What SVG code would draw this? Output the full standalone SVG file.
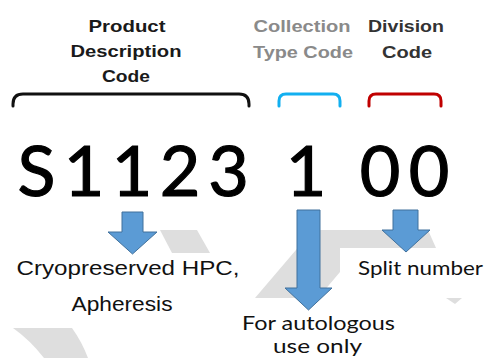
<svg xmlns="http://www.w3.org/2000/svg" width="488" height="358" viewBox="0 0 488 358">
  <style>
    .hdr { font-family: "Liberation Sans", Arial, sans-serif; font-weight: bold; font-size: 16.5px; text-anchor: middle; }
    .desc { font-family: "Liberation Sans", Arial, sans-serif; font-size: 20.5px; fill: #111; text-anchor: middle; }
    .cal { font-family: Lato, "Open Sans", sans-serif; font-size: 19px; fill: #111; text-anchor: middle; }
    .code { font-family: Lato, "Open Sans", sans-serif; font-size: 70px; fill: #000; stroke: #000; stroke-width: 1.2; text-anchor: middle; }
    .bracket { fill: none; stroke-width: 3; stroke-linecap: round; }
    .arrow { fill: #5b9bd5; stroke: #41719c; stroke-width: 1; }
    .bg { fill: #dedede; }
  </style>
  <rect width="488" height="358" fill="#ffffff"/>
  <g id="background">
    <polygon class="bg" points="160,230 197,230 210,253 172,253"/>
    <polygon class="bg" points="255,298 313,230 428,230 436,248 340,248 340,272 318,298"/>
    <polygon class="bg" points="446,298 462,298 455,304"/>
    <path class="bg" d="M13,328 L72,328 Q82,342 88,358 L44,358 Q30,340 13,328 Z"/>
  </g>
  <g id="product-description-code">
    <text class="hdr" fill="#1a1a1a" x="127" y="32" textLength="77" lengthAdjust="spacingAndGlyphs">Product</text>
    <text class="hdr" fill="#1a1a1a" x="126" y="57" textLength="111" lengthAdjust="spacingAndGlyphs">Description</text>
    <text class="hdr" fill="#1a1a1a" x="126" y="82" textLength="48" lengthAdjust="spacingAndGlyphs">Code</text>
    <path class="bracket" stroke="#111" d="M13,106 L13,104 Q13,94 23,94 L239,94 Q249,94 249,104 L249,106"/>
  </g>
  <g id="collection-type-code">
    <text class="hdr" fill="#8a8a8a" x="302" y="32" textLength="97" lengthAdjust="spacingAndGlyphs">Collection</text>
    <text class="hdr" fill="#8a8a8a" x="303" y="58" textLength="100" lengthAdjust="spacingAndGlyphs">Type Code</text>
    <path class="bracket" stroke="#12aff0" d="M279,106 L279,101 Q279,94 286,94 L333,94 Q340,94 340,101 L340,106"/>
  </g>
  <g id="division-code">
    <text class="hdr" fill="#333333" x="406" y="32" textLength="76" lengthAdjust="spacingAndGlyphs">Division</text>
    <text class="hdr" fill="#333333" x="407" y="58" textLength="50" lengthAdjust="spacingAndGlyphs">Code</text>
    <path class="bracket" stroke="#c00000" d="M369,106 L369,101 Q369,94 376,94 L434,94 Q441,94 441,101 L441,106"/>
  </g>
  <g id="code">
    <text class="code" x="36.5 84 132 180 228.5 306 380 429" y="196">S1123100</text>
  </g>
  <g id="connectors">
    <polygon class="arrow" points="122,212 143,212 143,232 157,232 132.5,254 108,232 122,232"/>
    <polygon class="arrow" points="297,210 320,210 320,288 332,288 308.5,310 285,288 297,288"/>
    <polygon class="arrow" points="393,210 418,210 418,230 430,230 406,252 382,230 393,230"/>
  </g>
  <g id="cryopreserved">
    <text class="desc" x="128" y="275" textLength="223" lengthAdjust="spacingAndGlyphs">Cryopreserved HPC,</text>
    <text class="desc" x="122" y="311" textLength="101" lengthAdjust="spacingAndGlyphs">Apheresis</text>
  </g>
  <g id="autologous">
    <text class="cal" x="318.5" y="330" textLength="153" lengthAdjust="spacingAndGlyphs">For autologous</text>
    <text class="cal" x="317.5" y="353" textLength="89" lengthAdjust="spacingAndGlyphs">use only</text>
  </g>
  <g id="split-number">
    <text class="cal" x="420.5" y="275" textLength="125" lengthAdjust="spacingAndGlyphs">Split number</text>
  </g>
</svg>
